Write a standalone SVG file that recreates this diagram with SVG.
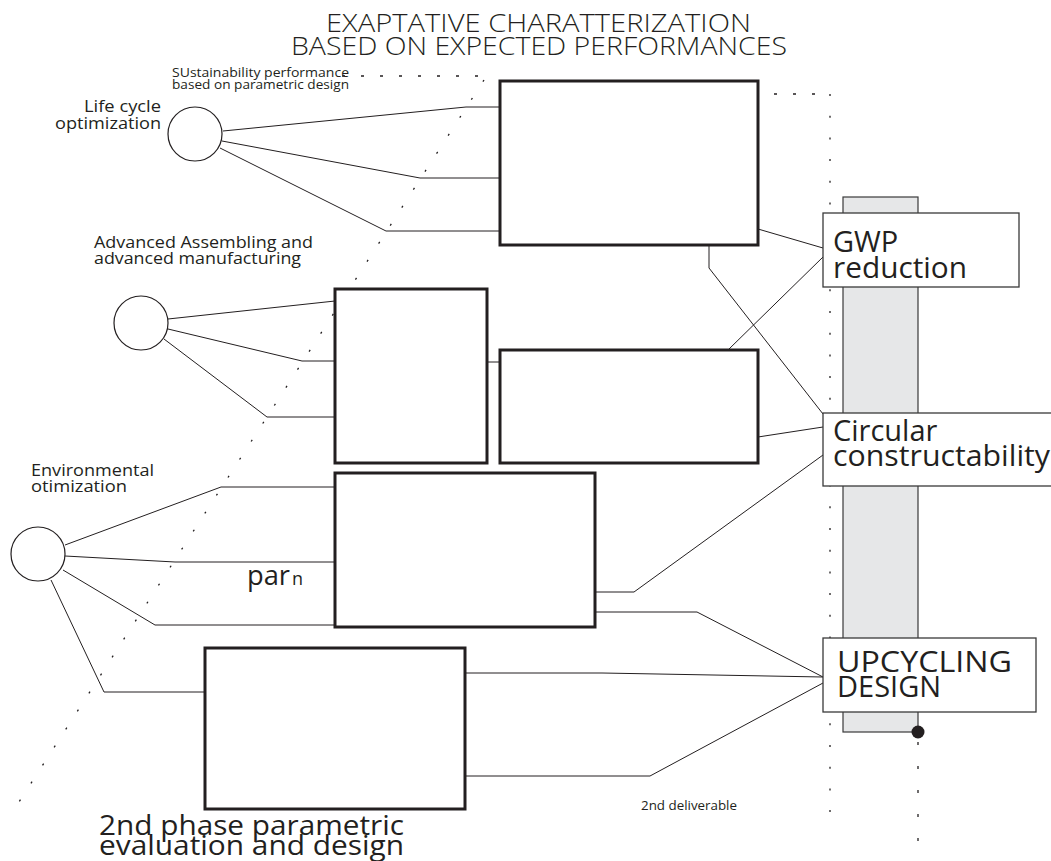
<svg xmlns="http://www.w3.org/2000/svg" width="1051" height="861" viewBox="0 0 1051 861">
<style>
text{font-family:"Open Sans","Liberation Sans",sans-serif;fill:#231f20}
.title{font-size:25px;font-weight:300}
.lbl{font-size:16px}
.small{font-size:13px}
.big{font-size:29px}
.box{fill:#fff;stroke:#231f20;stroke-width:3}
.tag{fill:#fff;stroke:#3a3a3a;stroke-width:1.3}
.circ{fill:#fff;stroke:#231f20;stroke-width:1.2}
.con{fill:none;stroke:#231f20;stroke-width:1}
.dot{fill:none;stroke:#231f20;stroke-width:1.3}
</style>
<rect width="1051" height="861" fill="#fff"/>

<g id="guides">
<line class="dot" x1="342" y1="76" x2="492" y2="76" stroke-dasharray="3 16"/>
<line class="dot" x1="484" y1="80" x2="17" y2="805" stroke-dasharray="2 19.4"/>
<line class="dot" x1="774" y1="94" x2="828" y2="94" stroke-dasharray="3 16"/>
<line class="dot" x1="830" y1="94" x2="830" y2="826" stroke-dasharray="2 19.7"/>
<line class="dot" x1="918" y1="742" x2="918" y2="845" stroke-dasharray="3 21"/>
</g>

<g id="bar">
<rect x="843" y="197" width="75" height="535" fill="#e6e7e8" stroke="#3a3a3a" stroke-width="1.2"/>
<circle cx="918" cy="732" r="6.5" fill="#231f20"/>
</g>

<g id="connectors">
<polyline class="con" points="223,131 466,107 500,107"/>
<polyline class="con" points="222,141 420,178 500,178"/>
<polyline class="con" points="220,148 386,231 500,231"/>
<polyline class="con" points="168,319 335,301"/>
<polyline class="con" points="168,329 302,361 335,361"/>
<polyline class="con" points="164,339 267,417 335,417"/>
<polyline class="con" points="487,362 500,362"/>
<polyline class="con" points="65,545 221,487 335,487"/>
<polyline class="con" points="65,556 175,562 335,562"/>
<polyline class="con" points="63,570 155,625 335,625"/>
<polyline class="con" points="51,580 104,692 205,692"/>
<polyline class="con" points="758,229 823,248"/>
<polyline class="con" points="709,245 709,268 823,414"/>
<polyline class="con" points="728,350 823,257"/>
<polyline class="con" points="758,437 823,427"/>
<polyline class="con" points="595,592 634,592 823,455"/>
<polyline class="con" points="595,612 697,612 823,677"/>
<polyline class="con" points="465,673 602,673 823,677"/>
<polyline class="con" points="465,776 650,776 823,683"/>
</g>

<g id="circle-lifecycle">
<circle class="circ" cx="195" cy="134" r="27"/>
<text class="lbl" font-size="17" x="161" y="112" text-anchor="end" textLength="77" lengthAdjust="spacingAndGlyphs">Life cycle</text>
<text class="lbl" font-size="17" x="161" y="129" text-anchor="end" textLength="106" lengthAdjust="spacingAndGlyphs">optimization</text>
</g>

<g id="circle-assembling">
<circle class="circ" cx="141" cy="323" r="27"/>
<text class="lbl" x="94" y="248" textLength="219" lengthAdjust="spacingAndGlyphs">Advanced Assembling and</text>
<text class="lbl" x="94" y="264" textLength="207" lengthAdjust="spacingAndGlyphs">advanced manufacturing</text>
</g>

<g id="circle-environmental">
<circle class="circ" cx="38" cy="554" r="27"/>
<text class="lbl" x="31" y="476" textLength="123" lengthAdjust="spacingAndGlyphs">Environmental</text>
<text class="lbl" x="31" y="492" textLength="96" lengthAdjust="spacingAndGlyphs">otimization</text>
</g>

<g id="box1"><rect class="box" x="500" y="81" width="258" height="164"/></g>
<g id="box2"><rect class="box" x="335" y="289" width="152" height="174"/></g>
<g id="box3"><rect class="box" x="500" y="350" width="258" height="113"/></g>
<g id="box4"><rect class="box" x="335" y="473" width="260" height="154"/>
<text x="247" y="585" font-size="28" textLength="43" lengthAdjust="spacingAndGlyphs">par</text>
<text x="292" y="585" font-size="18">n</text>
</g>
<g id="box5"><rect class="box" x="205" y="648" width="260" height="161"/></g>

<g id="gwp">
<rect class="tag" x="823" y="213" width="196" height="74"/>
<text class="big" x="833" y="252">GWP</text>
<text class="big" x="833" y="278" textLength="134" lengthAdjust="spacingAndGlyphs">reduction</text>
</g>
<g id="circular">
<rect class="tag" x="823" y="413" width="232" height="73"/>
<text class="big" x="833" y="441">Circular</text>
<text class="big" x="833" y="466" textLength="217" lengthAdjust="spacingAndGlyphs">constructability</text>
</g>
<g id="upcycling">
<rect class="tag" x="823" y="638" width="213" height="74"/>
<text class="big" font-size="30" x="837" y="672" textLength="175" lengthAdjust="spacingAndGlyphs">UPCYCLING</text>
<text class="big" font-size="30" x="837" y="697">DESIGN</text>
</g>

<g id="texts">
<text class="title" x="326" y="32" textLength="425" lengthAdjust="spacingAndGlyphs">EXAPTATIVE CHARATTERIZATION</text>
<text class="title" x="291" y="55" textLength="496" lengthAdjust="spacingAndGlyphs">BASED ON EXPECTED PERFORMANCES</text>
<text class="small" x="172" y="77" textLength="177" lengthAdjust="spacingAndGlyphs">SUstainability performance</text>
<text class="small" x="172" y="89" textLength="177" lengthAdjust="spacingAndGlyphs">based on parametric design</text>
<text class="small" x="641" y="810" textLength="96" lengthAdjust="spacingAndGlyphs">2nd deliverable</text>
<text font-size="27" x="99" y="835" textLength="305" lengthAdjust="spacingAndGlyphs">2nd phase parametric</text>
<text font-size="27" x="99" y="855" textLength="305" lengthAdjust="spacingAndGlyphs">evaluation and design</text>
</g>
</svg>
